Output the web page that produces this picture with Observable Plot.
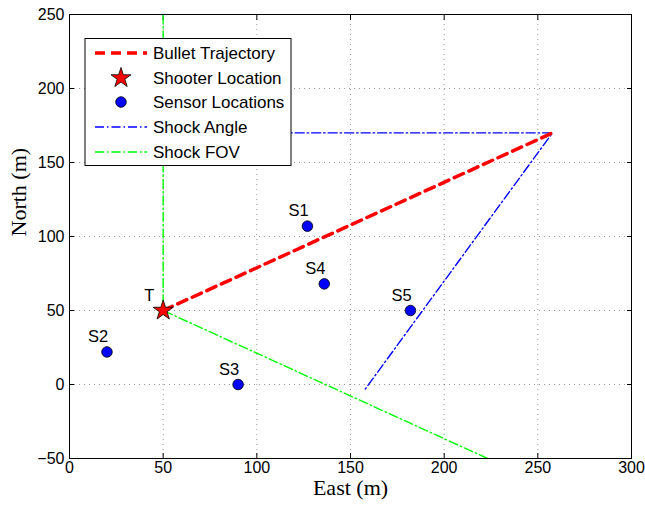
<!DOCTYPE html>
<html>
<head>
<meta charset="utf-8">
<script src="https://cdn.jsdelivr.net/npm/d3@7"></script>
<script src="https://cdn.jsdelivr.net/npm/@observablehq/plot@0.6"></script>
<style>
  html, body { margin: 0; padding: 0; background: #fff; }
</style>
</head>
<body>
<div id="chart"></div>
<script>
// ---- data ----
const sensorNames = ["S1", "S2", "S3", "S4", "S5"];
const sensorEast = [127, 20, 90, 136, 182];
const sensorNorth = [107, 22, 0, 68, 50];

const shooterName = ["T"];
const shooterEast = [50];
const shooterNorth = [50];

const trajectoryEast = [50, 257.8];
const trajectoryNorth = [50, 170];

const shockAngleEast = [50, 257.8, 157.8];
const shockAngleNorth = [170, 170, -3.2];

const fovEast = [50, 50, 223.2];
const fovNorth = [250, 50, -50];

const xTicks = [0, 50, 100, 150, 200, 250, 300];
const yTicks = [-50, 0, 50, 100, 150, 200, 250];

const legendLabels = ["Bullet Trajectory", "Shooter Location", "Sensor Locations", "Shock Angle", "Shock FOV"];

// ---- tables ----
const sensors = sensorNames.map((n, i) => ({name: n, east: sensorEast[i], north: sensorNorth[i]}));
const shooter = shooterName.map((n, i) => ({name: n, east: shooterEast[i], north: shooterNorth[i]}));
const trajectory = trajectoryEast.map((e, i) => ({east: e, north: trajectoryNorth[i]}));
const shockAngle = shockAngleEast.map((e, i) => ({east: e, north: shockAngleNorth[i]}));
const fov = fovEast.map((e, i) => ({east: e, north: fovNorth[i]}));

const sans = "'Liberation Sans', Arial, Helvetica, sans-serif";
const serif = "'Liberation Serif', 'Times New Roman', serif";
const dashDot = "9,3,1.5,3";
const starR = 6.3;

const svg = Plot.plot({
  width: 645,
  height: 506,
  marginLeft: 69,
  marginRight: 14,
  marginTop: 14,
  marginBottom: 48,
  style: {fontFamily: sans, fontSize: "16px", background: "white", color: "black"},
  x: {domain: [0, 300], ticks: xTicks},
  y: {domain: [-50, 250], ticks: yTicks},
  marks: [
    Plot.gridX(xTicks, {stroke: "#000", strokeOpacity: 0.5, strokeDasharray: "1,4", strokeWidth: 0.8}),
    Plot.gridY(yTicks, {stroke: "#000", strokeOpacity: 0.5, strokeDasharray: "1,4", strokeWidth: 0.8}),
    // tick labels
    Plot.axisX(xTicks, {anchor: "bottom", tickSize: 0, tickPadding: 3, label: null, fontSize: 16}),
    Plot.axisY(yTicks, {anchor: "left", tickSize: 0, tickPadding: 5, label: null, fontSize: 16}),
    // inward tick marks on all sides
    Plot.axisX(xTicks, {anchor: "bottom", tickSize: -5, tickFormat: () => "", label: null}),
    Plot.axisX(xTicks, {anchor: "top", tickSize: -5, tickFormat: () => "", label: null}),
    Plot.axisY(yTicks, {anchor: "left", tickSize: -5, tickFormat: () => "", label: null}),
    Plot.axisY(yTicks, {anchor: "right", tickSize: -5, tickFormat: () => "", label: null}),
    Plot.line(fov, {x: "east", y: "north", stroke: "#00ff00", strokeWidth: 1.4, strokeDasharray: dashDot, clip: true}),
    Plot.line(shockAngle, {x: "east", y: "north", stroke: "#0000ff", strokeWidth: 1.4, strokeDasharray: dashDot, clip: true}),
    Plot.line(trajectory, {x: "east", y: "north", stroke: "#ff0000", strokeWidth: 3.5, strokeDasharray: "10,6", clip: true}),
    Plot.dot(sensors, {x: "east", y: "north", r: 5.3, fill: "#0000ff", stroke: "#000", strokeWidth: 0.8}),
    Plot.dot(shooter, {x: "east", y: "north", symbol: "star", r: starR, fill: "#ff0000", stroke: "#000", strokeWidth: 0.8}),
    Plot.text(sensors, {x: "east", y: "north", text: "name", dx: -19, dy: -15, textAnchor: "start", fontSize: 16.5}),
    Plot.text(shooter, {x: "east", y: "north", text: "name", dx: -19, dy: -15, textAnchor: "start", fontSize: 16.5}),
    Plot.frame({stroke: "#000", strokeWidth: 1}),
    Plot.text(["East (m)"], {frameAnchor: "bottom", dy: 36, fontFamily: serif, fontSize: 22}),
    Plot.text(["North (m)"], {frameAnchor: "left", dx: -51, rotate: -90, fontFamily: serif, fontSize: 22})
  ]
});

// ---- legend (drawn on top) ----
const g = d3.select(svg).append("g").attr("font-family", sans).attr("font-size", 17).attr("text-anchor", "start");
g.append("rect").attr("x", 85).attr("y", 38.5).attr("width", 206).attr("height", 127)
  .attr("fill", "white").attr("stroke", "#000").attr("stroke-width", 1);
const rows = [53, 78, 102, 127, 152];
const x0 = 95, x1 = 147, xc = 121, xt = 153;
g.append("line").attr("x1", x0).attr("x2", x1).attr("y1", rows[0]).attr("y2", rows[0])
  .attr("stroke", "#ff0000").attr("stroke-width", 3.5).attr("stroke-dasharray", "10,6");
g.append("path").attr("d", d3.symbol(d3.symbolStar, Math.PI * starR * starR)()).attr("transform", `translate(${xc},${rows[1]})`)
  .attr("fill", "#ff0000").attr("stroke", "#000").attr("stroke-width", 0.8);
g.append("circle").attr("cx", xc).attr("cy", rows[2]).attr("r", 5.3)
  .attr("fill", "#0000ff").attr("stroke", "#000").attr("stroke-width", 0.8);
g.append("line").attr("x1", x0).attr("x2", x1).attr("y1", rows[3]).attr("y2", rows[3])
  .attr("stroke", "#0000ff").attr("stroke-width", 1.4).attr("stroke-dasharray", dashDot);
g.append("line").attr("x1", x0).attr("x2", x1).attr("y1", rows[4]).attr("y2", rows[4])
  .attr("stroke", "#00ff00").attr("stroke-width", 1.4).attr("stroke-dasharray", dashDot);
legendLabels.forEach((t, i) => {
  g.append("text").attr("x", xt).attr("y", rows[i]).attr("dy", "0.35em").attr("fill", "#000").text(t);
});

document.getElementById("chart").appendChild(svg);
</script>
</body>
</html>
